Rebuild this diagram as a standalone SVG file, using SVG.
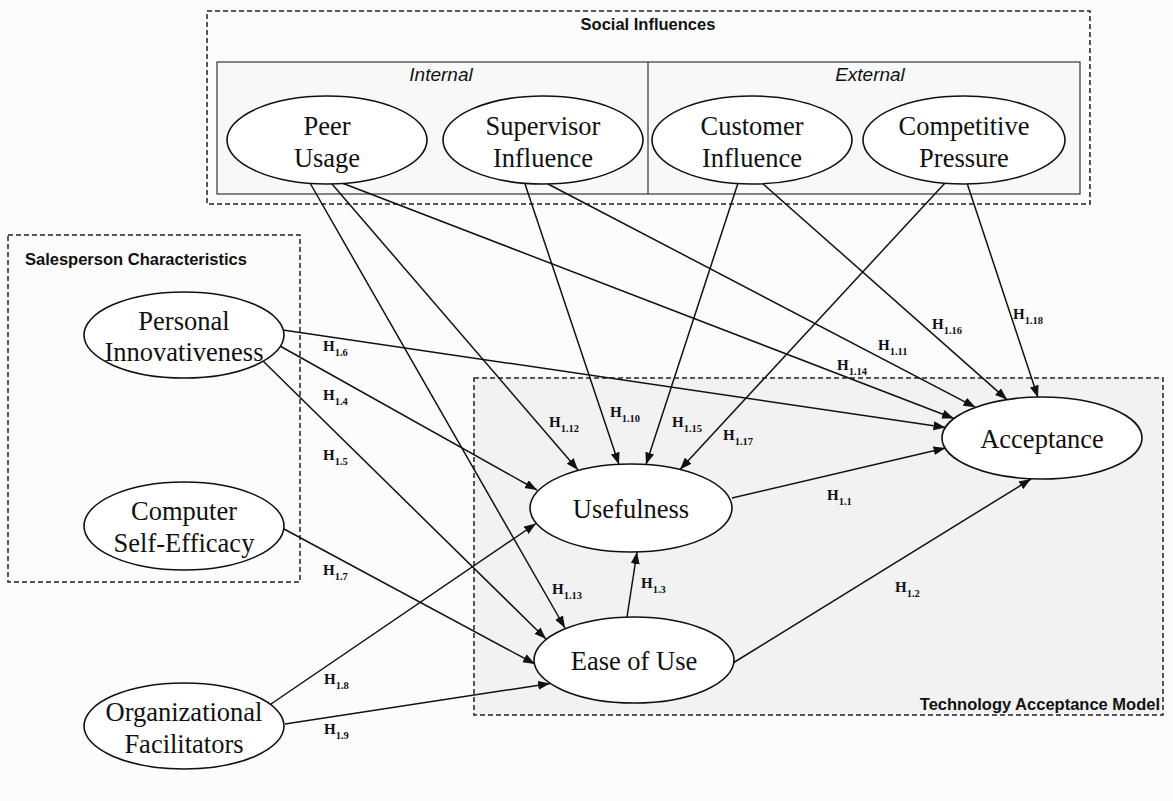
<svg xmlns="http://www.w3.org/2000/svg" width="1173" height="801" viewBox="0 0 1173 801">
  <defs>
    <marker id="arrow" markerUnits="userSpaceOnUse" markerWidth="13" markerHeight="10" refX="12" refY="4.5" orient="auto">
      <path d="M0,0 L12,4.5 L0,9 z" fill="#111"/>
    </marker>
    <style>
      .box{fill:none;stroke:#222;stroke-width:1.5;stroke-dasharray:5 3}
      .tam{fill:#f2f2f2}
      .inner{fill:#f8f8f8;stroke:#444;stroke-width:1.3}
      .node ellipse{fill:#fff;stroke:#111;stroke-width:1.6}
      .node text{font-family:"Liberation Serif","Times New Roman",serif;font-size:26.5px;fill:#111;text-anchor:middle}
      .edge{stroke:#111;stroke-width:1.5;fill:none;marker-end:url(#arrow)}
      .title{font-family:"Liberation Sans",Arial,sans-serif;font-weight:bold;font-size:16.5px;fill:#111}
      .side{font-family:"Liberation Sans",Arial,sans-serif;font-style:italic;font-size:19px;fill:#111;text-anchor:middle}
      .h{font-family:"Liberation Serif","Times New Roman",serif;font-weight:bold;font-size:15px;fill:#111}
      .h tspan{font-size:10.5px}
    </style>
  </defs>

  <rect width="1173" height="801" fill="#fcfcfc"/>

  <!-- grouping boxes -->
  <g id="social-influences">
    <rect class="box" x="207" y="11" width="883" height="193"/>
    <rect class="inner" x="217" y="62" width="863" height="132"/>
    <line x1="648" y1="62" x2="648" y2="194" stroke="#444" stroke-width="1.3"/>
    <text class="title" x="648" y="30" text-anchor="middle">Social Influences</text>
    <text class="side" x="441" y="81">Internal</text>
    <text class="side" x="870" y="81">External</text>
  </g>
  <g id="salesperson-characteristics">
    <rect class="box" x="8" y="235" width="292" height="347"/>
    <text class="title" x="25" y="265">Salesperson Characteristics</text>
  </g>
  <g id="technology-acceptance-model">
    <rect class="tam" x="474" y="378" width="689" height="337"/>
    <rect class="box" x="474" y="378" width="689" height="337"/>
    <text class="title" x="1160" y="710" text-anchor="end">Technology Acceptance Model</text>
  </g>

  <!-- hypothesised paths -->
  <g id="connectors">
    <line class="edge" x1="732" y1="498" x2="945.5" y2="448"/>
    <line class="edge" x1="733" y1="663" x2="1031" y2="479"/>
    <line class="edge" x1="627" y1="617" x2="637" y2="552"/>
    <line class="edge" x1="280" y1="346" x2="537" y2="490"/>
    <line class="edge" x1="263" y1="361" x2="546" y2="639"/>
    <line class="edge" x1="283" y1="330" x2="945.5" y2="427.5"/>
    <line class="edge" x1="284" y1="529" x2="535" y2="664"/>
    <line class="edge" x1="271" y1="704" x2="536" y2="523.5"/>
    <line class="edge" x1="285" y1="724" x2="550" y2="683.5"/>
    <line class="edge" x1="525" y1="184" x2="619" y2="464.5"/>
    <line class="edge" x1="548" y1="184" x2="975.5" y2="407.3"/>
    <line class="edge" x1="332" y1="184" x2="578" y2="470"/>
    <line class="edge" x1="310" y1="183" x2="565" y2="628"/>
    <line class="edge" x1="342" y1="183" x2="954" y2="418.5"/>
    <line class="edge" x1="738" y1="183" x2="646" y2="464.5"/>
    <line class="edge" x1="762" y1="183" x2="1007" y2="399.6"/>
    <line class="edge" x1="945" y1="183" x2="680" y2="469.5"/>
    <line class="edge" x1="967" y1="183" x2="1038" y2="397.5"/>
  </g>

  <!-- constructs -->
  <g id="peer-usage" class="node">
    <ellipse cx="327" cy="140" rx="100" ry="44"/>
    <text x="327" y="135">Peer</text>
    <text x="327" y="167">Usage</text>
  </g>
  <g id="supervisor-influence" class="node">
    <ellipse cx="543" cy="140" rx="100" ry="44"/>
    <text x="543" y="135">Supervisor</text>
    <text x="543" y="167">Influence</text>
  </g>
  <g id="customer-influence" class="node">
    <ellipse cx="752" cy="140" rx="100" ry="44"/>
    <text x="752" y="135">Customer</text>
    <text x="752" y="167">Influence</text>
  </g>
  <g id="competitive-pressure" class="node">
    <ellipse cx="964" cy="140" rx="101" ry="44"/>
    <text x="964" y="135">Competitive</text>
    <text x="964" y="167">Pressure</text>
  </g>
  <g id="personal-innovativeness" class="node">
    <ellipse cx="184" cy="335" rx="100" ry="43"/>
    <text x="184" y="330">Personal</text>
    <text x="184" y="361">Innovativeness</text>
  </g>
  <g id="computer-self-efficacy" class="node">
    <ellipse cx="184" cy="526" rx="100" ry="44"/>
    <text x="184" y="520">Computer</text>
    <text x="184" y="552">Self-Efficacy</text>
  </g>
  <g id="organizational-facilitators" class="node">
    <ellipse cx="184" cy="726" rx="100" ry="43"/>
    <text x="184" y="721">Organizational</text>
    <text x="184" y="753">Facilitators</text>
  </g>
  <g id="usefulness" class="node">
    <ellipse cx="631" cy="508" rx="101" ry="44"/>
    <text x="631" y="518">Usefulness</text>
  </g>
  <g id="ease-of-use" class="node">
    <ellipse cx="634" cy="660" rx="100" ry="43"/>
    <text x="634" y="670">Ease of Use</text>
  </g>
  <g id="acceptance" class="node">
    <ellipse cx="1042" cy="438" rx="100" ry="41"/>
    <text x="1042" y="448">Acceptance</text>
  </g>

  <!-- hypothesis labels -->
  <g id="labels">
    <text class="h" x="827" y="500">H<tspan dy="5">1.1</tspan></text>
    <text class="h" x="895" y="592">H<tspan dy="5">1.2</tspan></text>
    <text class="h" x="641" y="588">H<tspan dy="5">1.3</tspan></text>
    <text class="h" x="323" y="400">H<tspan dy="5">1.4</tspan></text>
    <text class="h" x="323" y="460">H<tspan dy="5">1.5</tspan></text>
    <text class="h" x="323" y="351">H<tspan dy="5">1.6</tspan></text>
    <text class="h" x="323" y="575">H<tspan dy="5">1.7</tspan></text>
    <text class="h" x="324" y="684">H<tspan dy="5">1.8</tspan></text>
    <text class="h" x="324" y="734">H<tspan dy="5">1.9</tspan></text>
    <text class="h" x="610" y="417">H<tspan dy="5">1.10</tspan></text>
    <text class="h" x="878" y="350">H<tspan dy="5">1.11</tspan></text>
    <text class="h" x="549" y="427">H<tspan dy="5">1.12</tspan></text>
    <text class="h" x="552" y="594">H<tspan dy="5">1.13</tspan></text>
    <text class="h" x="837" y="370">H<tspan dy="5">1.14</tspan></text>
    <text class="h" x="672" y="427">H<tspan dy="5">1.15</tspan></text>
    <text class="h" x="932" y="329">H<tspan dy="5">1.16</tspan></text>
    <text class="h" x="723" y="440">H<tspan dy="5">1.17</tspan></text>
    <text class="h" x="1013" y="319">H<tspan dy="5">1.18</tspan></text>
  </g>
</svg>
